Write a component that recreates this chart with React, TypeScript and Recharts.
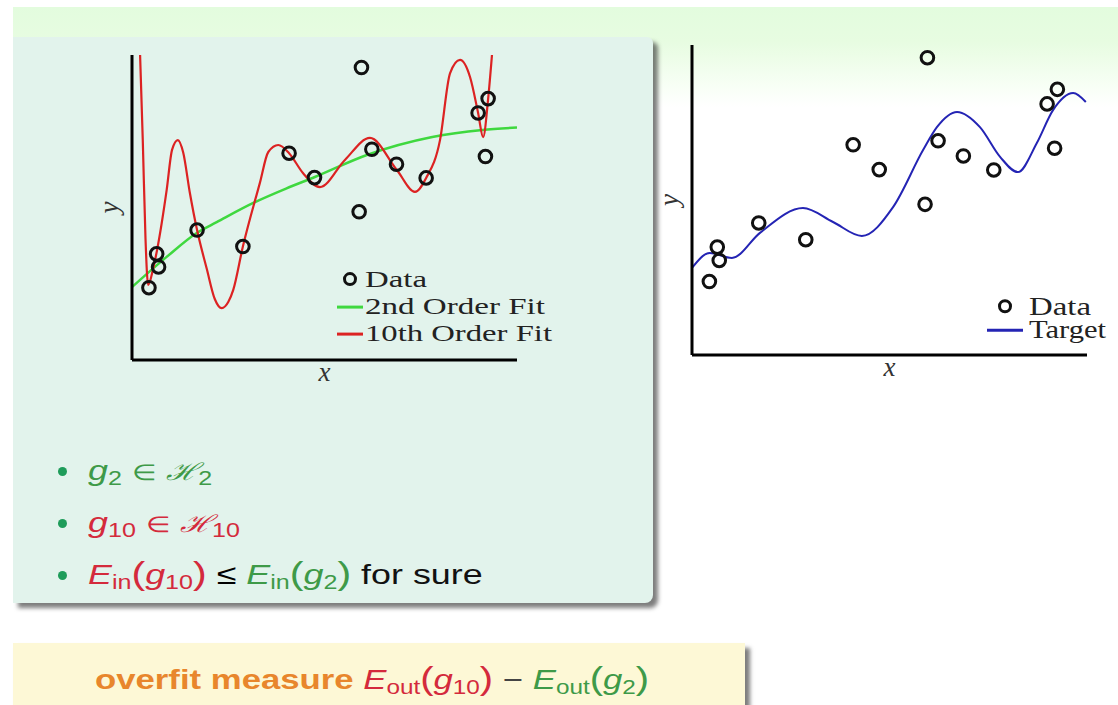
import React from 'react'
import { ComposedChart, Line, Scatter, XAxis, YAxis, Legend } from 'recharts'

// noisy sample points (shared by both plots)
const dataX = [0.044, 0.064, 0.069, 0.169, 0.288, 0.408, 0.474, 0.596, 0.59, 0.623, 0.687, 0.764, 0.899, 0.925, 0.918]
const dataY = [0.237, 0.348, 0.305, 0.426, 0.372, 0.678, 0.598, 0.959, 0.486, 0.691, 0.642, 0.597, 0.81, 0.857, 0.667]

// 2nd order fit
const fit2X = [0, 0.09, 0.17, 0.22, 0.315, 0.4, 0.475, 0.61, 0.78, 0.91, 1]
const fit2Y = [0.239, 0.338, 0.418, 0.452, 0.515, 0.562, 0.6, 0.672, 0.731, 0.754, 0.762]

// 10th order fit
const fit10X = [0.021, 0.028, 0.035, 0.042, 0.055, 0.065, 0.09, 0.104, 0.119, 0.133, 0.15, 0.169, 0.194, 0.215, 0.233, 0.25, 0.263, 0.288, 0.332, 0.354, 0.38, 0.408, 0.444, 0.488, 0.553, 0.618, 0.688, 0.735, 0.764, 0.8, 0.826, 0.852, 0.878, 0.899, 0.912, 0.925, 0.935]
const fit10Y = [1.0, 0.72, 0.4, 0.246, 0.3, 0.36, 0.557, 0.689, 0.721, 0.68, 0.55, 0.426, 0.3, 0.2, 0.17, 0.19, 0.23, 0.372, 0.58, 0.682, 0.705, 0.678, 0.613, 0.567, 0.656, 0.728, 0.623, 0.551, 0.597, 0.721, 0.94, 0.984, 0.928, 0.81, 0.731, 0.856, 1.0]

// target function
const targetX = [0, 0.045, 0.101, 0.172, 0.281, 0.357, 0.43, 0.509, 0.585, 0.62, 0.671, 0.729, 0.78, 0.825, 0.873, 0.914, 0.965, 0.997]
const targetY = [0.281, 0.329, 0.313, 0.394, 0.474, 0.429, 0.384, 0.477, 0.661, 0.735, 0.784, 0.735, 0.639, 0.59, 0.684, 0.79, 0.845, 0.816]

const GREEN = '#3fd83f'
const RED = '#dc2222'
const BLUE = '#2424b4'
const TXT_GREEN = '#3e9a48'
const TXT_RED = '#d42a3c'

const zip = (xs: number[], ys: number[]) => xs.map((x, i) => ({ x, y: ys[i] }))

const points = zip(dataX, dataY)
const fit2 = zip(fit2X, fit2Y)
const fit10 = zip(fit10X, fit10Y)
const target = zip(targetX, targetY)

const serif = '"Liberation Serif", "DejaVu Serif", serif'
const sans = '"Liberation Sans", Arial, sans-serif'

const Ring = (props: any) => (
  <circle cx={props.cx} cy={props.cy} r={6.3} fill='none' stroke='#111' strokeWidth={3} />
)

const XLabel = (props: any) => {
  const { viewBox } = props
  return (
    <text x={viewBox.x + viewBox.width / 2} y={viewBox.y + 21} textAnchor='middle'
      fontFamily={serif} fontStyle='italic' fontSize={27} fill='#333'>x</text>
  )
}

const YLabel = (props: any) => {
  const { viewBox } = props
  const cx = viewBox.x - 13
  const cy = viewBox.y + viewBox.height / 2
  return (
    <text x={cx} y={cy} transform={`rotate(-90 ${cx} ${cy})`} textAnchor='middle'
      fontFamily={serif} fontStyle='italic' fontSize={27} fill='#333'>y</text>
  )
}

interface LegendItem {
  label: string
  color?: string
  len: number
}

const makeLegend = (items: LegendItem[], fontSize: number, rowGap: number, textX: number, iconW: number) => () => (
  <svg width={240} height={100} style={{ overflow: 'visible' }}>
    {items.map((it, i) => {
      const base = 25 + i * rowGap
      const mid = base - fontSize * 0.3
      return (
        <g key={it.label}>
          {it.color ? (
            <line x1={2} x2={2 + iconW} y1={mid} y2={mid} stroke={it.color} strokeWidth={3} />
          ) : (
            <circle cx={2 + iconW / 2} cy={mid - 1} r={5.5} fill='none' stroke='#111' strokeWidth={3} />
          )}
          <text x={textX} y={base} fontFamily={serif} fontSize={fontSize} fill='#222'
            textLength={it.len} lengthAdjust='spacingAndGlyphs'>{it.label}</text>
        </g>
      )
    })}
  </svg>
)

const leftLegend = makeLegend(
  [
    { label: 'Data', len: 62 },
    { label: '2nd Order Fit', color: GREEN, len: 180 },
    { label: '10th Order Fit', color: RED, len: 187 },
  ],
  23, 27, 30, 26
)

const rightLegend = makeLegend(
  [
    { label: 'Data', len: 62 },
    { label: 'Target', color: BLUE, len: 77 },
  ],
  26, 23, 44, 36
)

const sub = { fontSize: '0.7em', verticalAlign: '-0.25em', lineHeight: 0 } as const
const paren = { fontSize: '1.15em', lineHeight: 0, fontWeight: 300 } as const
const elem = { fontSize: '0.8em' } as const
const calH = { fontFamily: '"DejaVu Serif", serif', fontStyle: 'italic', fontSize: '0.85em' } as const

const Bullet = ({ top, children }: { top: number; children: React.ReactNode }) => (
  <>
    <div style={{ position: 'absolute', left: 58, top: top - 14, width: 9, height: 9, borderRadius: 5, background: '#1e9c5a' }} />
    <div style={{ position: 'absolute', left: 88, top: top - 24, fontFamily: sans, fontSize: 28, lineHeight: '28px',
      whiteSpace: 'nowrap', transform: 'scaleX(1.28)', transformOrigin: 'left top' }}>
      {children}
    </div>
  </>
)

const App: React.FC = () => {
  return (
    <div style={{ position: 'absolute', left: 0, top: 0, width: 1118, height: 705, overflow: 'hidden', background: '#fff' }}>
      <div style={{ position: 'absolute', left: 13, top: 7, width: 1105, height: 100,
        background: 'linear-gradient(to bottom, #e3fcde 0px, #e7fce1 35px, #f8fff6 80px, #ffffff 100px)' }} />
      <div style={{ position: 'absolute', left: 13, top: 37, width: 640, height: 566, background: '#e2f3ec',
        borderRadius: '0 6px 8px 0', boxShadow: '5px 5px 4px rgba(40,40,40,0.6)' }} />
      <div style={{ position: 'absolute', left: 13, top: 643, width: 732, height: 90, background: '#fdf8d6',
        boxShadow: '5px 5px 4px rgba(40,40,40,0.6)' }} />

      <div style={{ position: 'absolute', left: 0, top: 0 }}>
        <ComposedChart width={560} height={400} margin={{ top: 55, right: 43, bottom: 39, left: 131 }}>
          <XAxis type='number' dataKey='x' domain={[0, 1]} height={1} tick={false} tickLine={false}
            axisLine={{ stroke: '#000', strokeWidth: 3 }} label={XLabel} />
          <YAxis type='number' dataKey='y' domain={[0, 1]} width={1} tick={false} tickLine={false}
            allowDataOverflow axisLine={{ stroke: '#000', strokeWidth: 3 }} label={YLabel} />
          <Legend content={leftLegend} layout='vertical' align='center' verticalAlign='middle'
            wrapperStyle={{ left: 335, top: 262, width: 240, height: 100 }} />
          <Line data={fit2} dataKey='y' type='monotone' stroke={GREEN} strokeWidth={2.5} dot={false} isAnimationActive={false} />
          <Line data={fit10} dataKey='y' type='monotone' stroke={RED} strokeWidth={2.2} dot={false} isAnimationActive={false} />
          <Scatter data={points} shape={Ring} isAnimationActive={false} />
        </ComposedChart>
      </div>

      <div style={{ position: 'absolute', left: 560, top: 0 }}>
        <ComposedChart width={558} height={400} margin={{ top: 45, right: 31, bottom: 44, left: 131 }}>
          <XAxis type='number' dataKey='x' domain={[0, 1]} height={1} tick={false} tickLine={false}
            axisLine={{ stroke: '#000', strokeWidth: 3 }} label={XLabel} />
          <YAxis type='number' dataKey='y' domain={[0, 1]} width={1} tick={false} tickLine={false}
            allowDataOverflow axisLine={{ stroke: '#000', strokeWidth: 3 }} label={YLabel} />
          <Legend content={rightLegend} layout='vertical' align='center' verticalAlign='middle'
            wrapperStyle={{ left: 425, top: 290, width: 140, height: 80 }} />
          <Line data={target} dataKey='y' type='monotone' stroke={BLUE} strokeWidth={2} dot={false} isAnimationActive={false} />
          <Scatter data={points} shape={Ring} isAnimationActive={false} />
        </ComposedChart>
      </div>

      <Bullet top={481}>
        <span style={{ color: TXT_GREEN }}>
          <i>g</i><span style={sub}>2</span> <span style={elem}>∈</span> <span style={calH}>ℋ</span><span style={sub}>2</span>
        </span>
      </Bullet>
      <Bullet top={533}>
        <span style={{ color: TXT_RED }}>
          <i>g</i><span style={sub}>10</span> <span style={elem}>∈</span> <span style={calH}>ℋ</span><span style={sub}>10</span>
        </span>
      </Bullet>
      <Bullet top={585}>
        <span style={{ color: TXT_RED }}><i>E</i><span style={sub}>in</span><span style={paren}>(</span><i>g</i><span style={sub}>10</span><span style={paren}>)</span></span>
        {' '}≤{' '}
        <span style={{ color: TXT_GREEN }}><i>E</i><span style={sub}>in</span><span style={paren}>(</span><i>g</i><span style={sub}>2</span><span style={paren}>)</span></span>
        <span style={{ color: '#111' }}> for sure</span>
      </Bullet>

      <div style={{ position: 'absolute', left: 95, top: 666, fontFamily: sans, fontSize: 28, lineHeight: '28px',
        whiteSpace: 'nowrap', transform: 'scaleX(1.24)', transformOrigin: 'left top' }}>
        <b style={{ color: '#e8862c' }}>overfit measure </b>
        <span style={{ color: TXT_RED }}><i>E</i><span style={sub}>out</span><span style={paren}>(</span><i>g</i><span style={sub}>10</span><span style={paren}>)</span></span>
        <span style={{ color: '#444' }}> − </span>
        <span style={{ color: TXT_GREEN }}><i>E</i><span style={sub}>out</span><span style={paren}>(</span><i>g</i><span style={sub}>2</span><span style={paren}>)</span></span>
      </div>
    </div>
  )
}

export default App
